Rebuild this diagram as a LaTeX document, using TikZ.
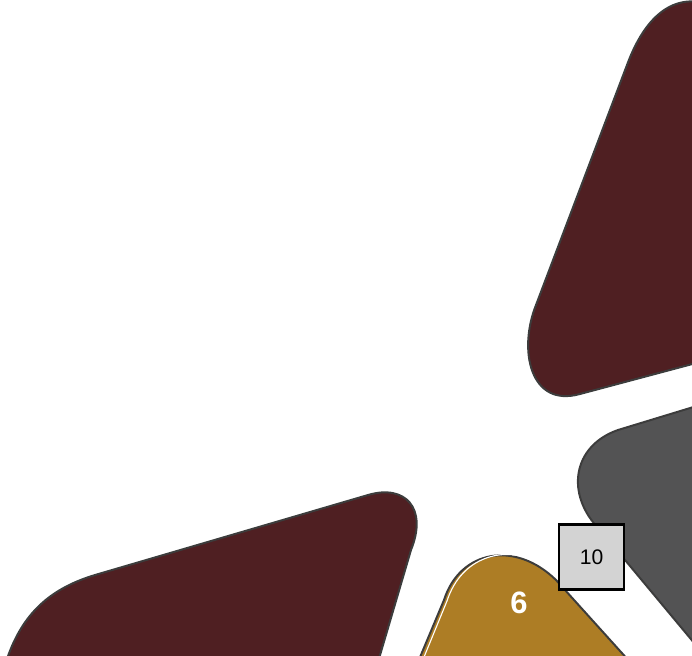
\documentclass[tikz,border=0pt]{standalone}
\usepackage{fontspec}
\setmainfont{Liberation Sans}
\definecolor{petalM}{RGB}{79,31,34}
\definecolor{petalG}{RGB}{83,83,84}
\definecolor{petalY}{RGB}{173,125,37}
\definecolor{rimD}{RGB}{60,60,60}
\definecolor{tagF}{RGB}{211,211,211}

\begin{document}
\begin{tikzpicture}[x=0.025cm, y=-0.025cm,
  petal/.style={draw=rimD, line width=1.4pt, line join=round},
  num/.style={font=\bfseries\fontsize{22}{24}\selectfont, text=white, inner sep=0pt},
  tag/.style={rectangle, draw=black, line width=1.6pt, fill=tagF,
              minimum size=1.62cm, inner sep=0pt, font=\fontsize{15}{17}\selectfont}]
  \useasboundingbox (0,0) rectangle (692,656);
  \clip (0,0) rectangle (692,656);
  % petals
  \draw[petal, fill=petalM] (700,2) .. controls (660,-4) and (638,35) .. (627,65)
    -- (536,305) .. controls (518,350) and (530,408) .. (580,394) -- (700,362);
  \draw[petal, fill=petalG] (700,405) -- (618,430) .. controls (572,446) and (565,495) .. (600,530)
    -- (700,650);
  \draw[petal, fill=petalM] (6,662) .. controls (22,612) and (52,588) .. (95,575)
    -- (368,495) .. controls (405,484) and (428,508) .. (411,550) -- (378,662);
  \draw[petal, fill=petalY] (418,662) -- (444,600) .. controls (460,550) and (515,540) .. (556,580)
    -- (630,662);
  \draw[white, line width=0.8pt] (422,662) -- (447,601) .. controls (462,555) and (505,548) .. (530,559);
  % labels
  \node[num] (n6) at (519,603) {6};
  \node[tag] (t10) at (591.5,557) {10};
\end{tikzpicture}
\end{document}
